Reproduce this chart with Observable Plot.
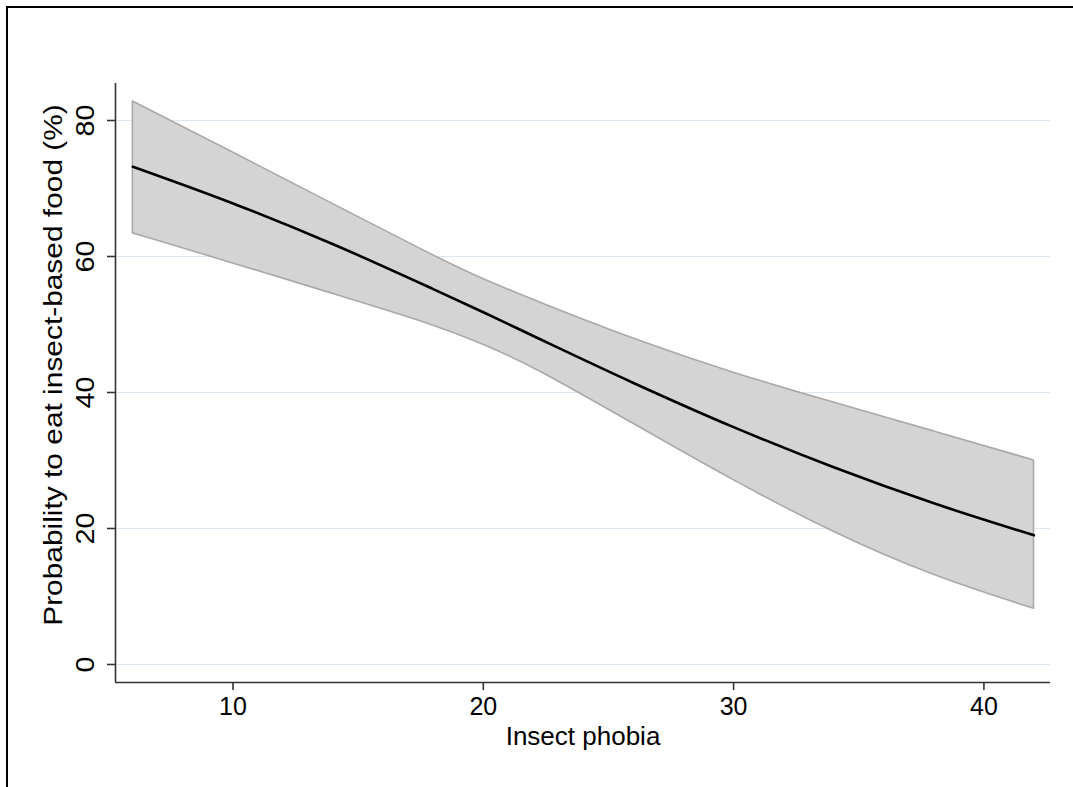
<!DOCTYPE html>
<html>
<head>
<meta charset="utf-8">
<script src="https://cdn.jsdelivr.net/npm/d3@7"></script>
<script src="https://cdn.jsdelivr.net/npm/@observablehq/plot@0.6"></script>
<style>
  html, body { margin: 0; padding: 0; background: #fff; overflow: hidden; }
  #frame { position: absolute; left: 6px; top: 6px; width: 1200px; height: 1000px; border: 2px solid #000; }
  #chart { position: absolute; left: 0; top: 0; }
</style>
</head>
<body>
<div id="frame"></div>
<div id="chart"></div>
<script>
const phobia = [6, 10, 14, 18, 20, 22, 26, 30, 34, 38, 42];
const predicted = [73.2, 67.8, 61.8, 55.2, 51.8, 48.3, 41.4, 34.9, 29.0, 23.7, 19.0];
const upperCI = [82.8, 75.3, 67.7, 60.1, 56.6, 53.6, 47.8, 42.8, 38.5, 34.3, 30.0];
const lowerCI = [63.4, 59.0, 54.5, 50.0, 47.1, 43.8, 35.4, 27.0, 19.3, 12.9, 8.2];
const xTicks = [10, 20, 30, 40];
const yTicks = [0, 20, 40, 60, 80];
const xTitle = "Insect phobia";
const yTitle = "Probability to eat insect-based food (%)";

const data = phobia.map((x, i) => ({x, y: predicted[i], lo: lowerCI[i], hi: upperCI[i]}));
const font = "Liberation Sans, Arial, sans-serif";

const chart = Plot.plot({
  width: 1073,
  height: 787,
  marginLeft: 115,
  marginRight: 23,
  marginTop: 83,
  marginBottom: 105,
  style: {fontFamily: font, fontSize: "24px", color: "#000", background: "transparent"},
  x: {domain: [5.306, 42.66], axis: null},
  y: {domain: [-2.65, 85.44], axis: null},
  marks: [
    Plot.gridY(yTicks, {stroke: "#dce8ef", strokeOpacity: 1, strokeWidth: 1.2}),
    Plot.areaY(data, {x: "x", y1: "lo", y2: "hi", fill: "#d4d4d4", stroke: "#a9a9a9", strokeWidth: 1.6, curve: "basis"}),
    Plot.line(data, {x: "x", y: "y", stroke: "#000", strokeWidth: 2.6, curve: "monotone-x"}),
    Plot.ruleX([5.306], {stroke: "#333", strokeWidth: 1.6}),
    Plot.ruleY([-2.65], {stroke: "#333", strokeWidth: 1.6}),
    Plot.axisY(yTicks, {anchor: "left", tickSize: 8, tickFormat: () => "", stroke: "#333", strokeWidth: 1.6, label: null}),
    Plot.axisX(xTicks, {anchor: "bottom", tickSize: 8, tickFormat: () => "", stroke: "#333", strokeWidth: 1.6, label: null}),
    Plot.text(yTicks, {y: d => d, text: d => String(d), frameAnchor: "left", textAnchor: "middle", dx: -30, rotate: -90, fill: "#000", fontSize: 25}),
    Plot.text(xTicks, {x: d => d, text: d => String(d), frameAnchor: "bottom", textAnchor: "middle", dy: 32, fill: "#000", fontSize: 25}),
    Plot.text([xTitle], {text: d => d, frameAnchor: "bottom", textAnchor: "middle", dy: 62, fill: "#000", fontSize: 26}),
    Plot.text([yTitle], {text: d => d, frameAnchor: "left", textAnchor: "middle", dx: -62, dy: -18, rotate: -90, fill: "#000", fontSize: 26})
  ]
});
// the reference's rotated labels are drawn slightly elongated along their length
d3.select(chart).selectAll("[transform]").each(function() {
  const t = this.getAttribute("transform");
  if (t && t.includes("rotate(-90)")) this.setAttribute("transform", t + " scale(1.15,1)");
});
document.getElementById("chart").appendChild(chart);
</script>
</body>
</html>
